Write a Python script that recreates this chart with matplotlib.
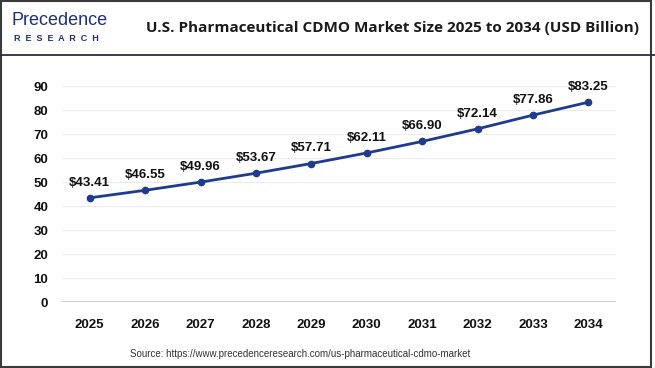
import matplotlib.pyplot as plt
from matplotlib.lines import Line2D
from matplotlib.patches import Rectangle

years = ['2025', '2026', '2027', '2028', '2029', '2030', '2031', '2032', '2033', '2034']
market_size = [43.41, 46.55, 49.96, 53.67, 57.71, 62.11, 66.90, 72.14, 77.86, 83.25]
y_ticks = [0, 10, 20, 30, 40, 50, 60, 70, 80, 90]

title = 'U.S. Pharmaceutical CDMO Market Size 2025 to 2034 (USD Billion)'
source = 'Source: https://www.precedenceresearch.com/us-pharmaceutical-cdmo-market'

plt.rcParams['font.family'] = ['Open Sans', 'DejaVu Sans']

fig = plt.figure(figsize=(6.55, 3.68), dpi=100)
ax = fig.add_axes([0.0947, 0.1793, 0.8458, 0.6196])

x = list(range(len(years)))
ax.plot(x, market_size, color='#1f3b8f', linewidth=2, marker='o', markersize=4.5, zorder=3)
for xi, v in zip(x, market_size):
    ax.annotate(f'${v:.2f}', (xi, v), xytext=(0, 6.5), textcoords='offset points',
                ha='center', va='bottom', fontsize=9.5, fontweight='bold', color='#111111',
                family=['Liberation Sans', 'DejaVu Sans'])

ax.set_xlim(-0.5, len(years) - 0.5)
ax.set_ylim(0, 95)
ax.set_yticks(y_ticks)
ax.set_xticks(x)
ax.set_xticklabels(years)
ax.grid(axis='y', color='#ececec', linewidth=0.8)
ax.axhline(0, color='#c4c4c4', linewidth=1.2, zorder=2)
for s in ax.spines.values():
    s.set_visible(False)
ax.tick_params(length=0, pad=12)
ax.tick_params(axis='y', pad=10)
for lbl in ax.get_xticklabels() + ax.get_yticklabels():
    lbl.set_fontweight('bold')
    lbl.set_fontsize(9.5)
    lbl.set_family(['Liberation Sans', 'DejaVu Sans'])
    lbl.set_color('#111111')

# header
fig.text(0.6, 0.925, title, ha='center', va='center', fontsize=11, fontweight='bold', color='#1a1a1a')
fig.text(0.018, 0.945, 'Precedence', ha='left', va='center', fontsize=13, color='#1d2f7a',
         family=['Liberation Sans', 'DejaVu Sans'])
fig.text(0.021, 0.895, 'R  E  S  E  A  R  C  H', ha='left', va='center', fontsize=6.5,
         fontweight='bold', color='#1d2f7a', family=['Liberation Sans', 'DejaVu Sans'])
fig.add_artist(Line2D([0.0, 1.0], [0.851, 0.851], color='#2b2b45', linewidth=1.3))
fig.add_artist(Rectangle((0.002, 0.004), 0.992, 0.993, fill=False, edgecolor='#3a3a3a', linewidth=1.5))

fig.text(0.458, 0.038, source, ha='center', va='center', fontsize=7, color='#333333',
         family=['Liberation Sans', 'DejaVu Sans'])

fig.savefig('out.png', dpi=100, facecolor='white')
